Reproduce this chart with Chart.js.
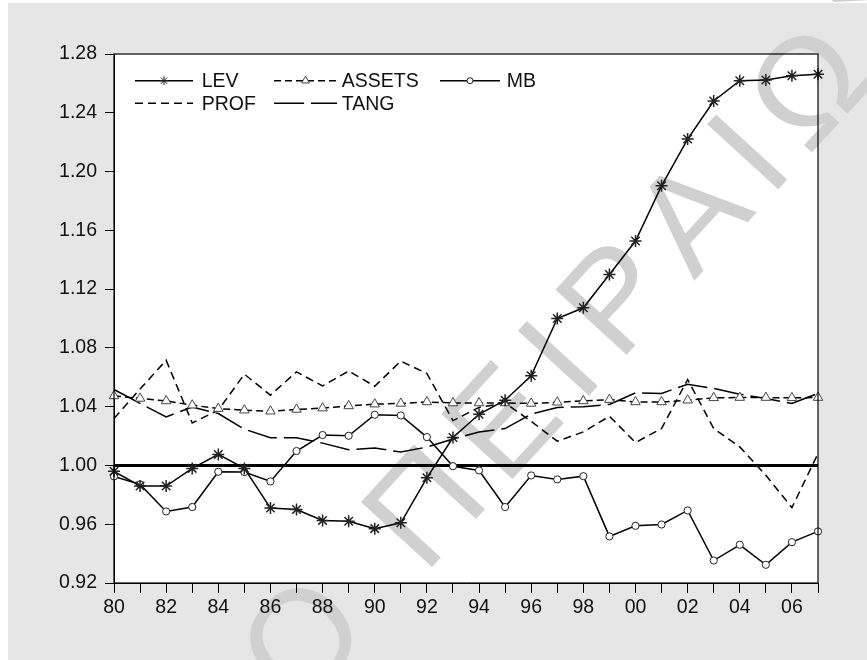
<!DOCTYPE html>
<html>
<head>
<meta charset="utf-8">
<script src="https://cdn.jsdelivr.net/npm/chart.js@4.4.0/dist/chart.umd.min.js"></script>
<style>
  html, body { margin: 0; padding: 0; background: #ffffff; }
  #c { display: block; }
</style>
</head>
<body>
<canvas id="c" width="867" height="660"></canvas>
<script>
// ---- data ----
const years = ['80','81','82','83','84','85','86','87','88','89','90','91','92','93','94','95','96','97','98','99','00','01','02','03','04','05','06','07'];
const LEV = [0.996, 0.986, 0.986, 0.998, 1.0075, 0.998, 0.971, 0.970, 0.9626, 0.962, 0.957, 0.961, 0.9916, 1.019, 1.0348, 1.0444, 1.061, 1.100, 1.1073, 1.130, 1.1527, 1.1903, 1.2221, 1.248, 1.2618, 1.2623, 1.2652, 1.2662];
const ASSETS = [1.0473, 1.0456, 1.0439, 1.041, 1.0387, 1.0376, 1.0369, 1.0381, 1.039, 1.0405, 1.0417, 1.0422, 1.0432, 1.0425, 1.0425, 1.0425, 1.0422, 1.043, 1.0439, 1.0448, 1.0432, 1.0432, 1.0444, 1.046, 1.0462, 1.0462, 1.046, 1.0462];
const MB = [0.9925, 0.9871, 0.9687, 0.9717, 0.9957, 0.9955, 0.9891, 1.0098, 1.0207, 1.0202, 1.0345, 1.034, 1.0193, 0.9995, 0.9966, 0.9717, 0.9932, 0.9905, 0.9927, 0.9517, 0.9589, 0.9598, 0.9694, 0.9353, 0.946, 0.9324, 0.9478, 0.9551];
const PROF = [1.0319, 1.052, 1.0716, 1.0289, 1.0376, 1.0621, 1.0478, 1.0637, 1.0541, 1.0642, 1.0539, 1.071, 1.0626, 1.0305, 1.0395, 1.0425, 1.030, 1.0165, 1.0228, 1.0335, 1.0156, 1.0251, 1.0585, 1.0251, 1.0126, 0.9933, 0.9713, 1.0081];
const TANG = [1.0517, 1.0422, 1.033, 1.0398, 1.0353, 1.0247, 1.0188, 1.0188, 1.0152, 1.0107, 1.0118, 1.0091, 1.0125, 1.018, 1.0228, 1.0251, 1.0349, 1.0394, 1.040, 1.0415, 1.0494, 1.049, 1.0553, 1.0524, 1.0485, 1.0456, 1.0422, 1.049];
const seriesNames = ['LEV', 'ASSETS', 'MB', 'PROF', 'TANG'];
const yTicks = { min: 0.92, max: 1.28, step: 0.04 };
const baseline = 1.00;
const watermarkHead = 'ΠΑΝΕΠΙΣΤΗΜΙ';
const watermarkTail = 'Ο ΠΕΙΡΑΙΩΣ';

const FONT = '"Liberation Sans", Arial, Helvetica, sans-serif';

// ---- plugins ----
const backgroundPlugin = {
  id: 'bg',
  beforeDraw(chart) {
    const ctx = chart.ctx, a = chart.chartArea;
    ctx.save();
    ctx.fillStyle = '#ffffff';
    ctx.fillRect(0, 0, chart.width, chart.height);
    ctx.fillStyle = '#e6e6e6';
    ctx.fillRect(8, 3, chart.width - 8, chart.height - 3);
    ctx.fillStyle = '#ffffff';
    ctx.fillRect(a.left, a.top, a.right - a.left, a.bottom - a.top);
    ctx.restore();

    // watermark: letters placed one by one along a diagonal, behind axes and data
    ctx.save();
    ctx.font = '140px ' + FONT;
    ctx.fillStyle = '#d0d0d0';
    ctx.textBaseline = 'middle';
    ctx.textAlign = 'center';
    const start = { x: 308, y: 645 };   // centre of the "Ο"
    const end = { x: 815, y: 92 };      // centre of the "Ω"
    const ang = Math.atan2(end.y - start.y, end.x - start.x);
    const dist = Math.hypot(end.x - start.x, end.y - start.y);
    const tail = Array.from(watermarkTail);
    const wArr = tail.map(ch => ctx.measureText(ch).width);
    const iW = tail.indexOf('Ω');
    let natural = wArr[0] / 2 + wArr[iW] / 2;
    for (let k = 1; k < iW; k++) natural += wArr[k];
    const extra = (dist - natural) / iW;
    ctx.translate(start.x, start.y);
    ctx.rotate(ang);
    let pos = 0;
    tail.forEach((ch, k) => {
      if (k > 0) pos += wArr[k - 1] / 2 + wArr[k] / 2 + extra;
      ctx.fillText(ch, pos, 0);
    });
    const head = Array.from(watermarkHead);
    let back = 0, prevW = wArr[0];
    for (let k = head.length - 1; k >= 0; k--) {
      const w = ctx.measureText(head[k]).width;
      back -= prevW / 2 + w / 2 + extra;
      ctx.fillText(head[k], back, 0);
      prevW = w;
    }
    ctx.restore();
  },
  beforeDatasetsDraw(chart) {
    const ctx = chart.ctx, a = chart.chartArea;
    const y = chart.scales.y.getPixelForValue(baseline);
    ctx.save();
    ctx.strokeStyle = '#000';
    ctx.lineWidth = 3;
    ctx.beginPath();
    ctx.moveTo(a.left, y);
    ctx.lineTo(a.right, y);
    ctx.stroke();
    ctx.restore();
  },
  afterDraw(chart) {
    const ctx = chart.ctx, a = chart.chartArea;
    ctx.save();
    ctx.strokeStyle = '#000';
    ctx.lineWidth = 1.2;
    ctx.strokeRect(a.left, a.top, a.right - a.left, a.bottom - a.top);
    ctx.restore();
  }
};

const legendLayout = [
  { x0: 135, x1: 193, tx: 201.7, y: 80.7, r: 4.5 },
  { x0: 274, x1: 337, tx: 341.7, y: 80.7, r: 4.5 },
  { x0: 440, x1: 500, tx: 506.7, y: 80.7, r: 3 },
  { x0: 135, x1: 193, tx: 201.7, y: 103.3, r: 0 },
  { x0: 274, x1: 337, tx: 341.7, y: 103.3, r: 0 }
];

const legendPlugin = {
  id: 'customLegend',
  afterDatasetsDraw(chart) {
    const ctx = chart.ctx;
    chart.data.datasets.forEach((ds, i) => {
      const L = legendLayout[i];
      ctx.save();
      ctx.strokeStyle = ds.borderColor;
      ctx.lineWidth = ds.borderWidth;
      ctx.setLineDash(ds.borderDash || []);
      ctx.beginPath();
      ctx.moveTo(L.x0, L.y);
      ctx.lineTo(L.x1, L.y);
      ctx.stroke();
      ctx.setLineDash([]);
      if (L.r > 0) {
        const mx = (L.x0 + L.x1) / 2;
        ctx.fillStyle = ds.pointBackgroundColor;
        ctx.strokeStyle = ds.pointBorderColor;
        ctx.lineWidth = 1;
        Chart.helpers.drawPoint(ctx, { pointStyle: ds.pointStyle, radius: L.r, rotation: 0, borderWidth: 1 }, mx, L.y);
      }
      ctx.fillStyle = '#111';
      ctx.font = '19.5px ' + FONT;
      ctx.textBaseline = 'middle';
      ctx.textAlign = 'left';
      ctx.fillText(ds.label, L.tx, L.y + 1);
      ctx.restore();
    });
  }
};

// ---- chart ----
const common = { borderColor: '#000', borderWidth: 1.5, tension: 0, fill: false };
new Chart(document.getElementById('c'), {
  type: 'line',
  data: {
    labels: years,
    datasets: [
      Object.assign({}, common, { label: seriesNames[0], data: LEV, pointStyle: 'star', pointRadius: 6, pointBorderColor: '#222', pointBackgroundColor: '#222', pointBorderWidth: 1.5 }),
      Object.assign({}, common, { label: seriesNames[1], data: ASSETS, borderDash: [7, 4], pointStyle: 'triangle', pointRadius: 5.5, pointBorderColor: '#444', pointBackgroundColor: '#fff', pointBorderWidth: 1 }),
      Object.assign({}, common, { label: seriesNames[2], data: MB, pointStyle: 'circle', pointRadius: 3.6, pointBorderColor: '#222', pointBackgroundColor: '#fff', pointBorderWidth: 1 }),
      Object.assign({}, common, { label: seriesNames[3], data: PROF, borderDash: [8, 5], pointRadius: 0 }),
      Object.assign({}, common, { label: seriesNames[4], data: TANG, borderDash: [30, 7], pointRadius: 0 })
    ]
  },
  options: {
    responsive: false,
    devicePixelRatio: 1,
    animation: false,
    events: [],
    layout: { padding: { top: 54, right: 49, left: 0, bottom: 0 } },
    plugins: { legend: { display: false }, tooltip: { enabled: false } },
    scales: {
      x: {
        type: 'category',
        offset: false,
        afterFit(s) { s.height = 77; },
        border: { display: true, color: '#000', width: 1 },
        grid: { display: true, drawOnChartArea: false, drawTicks: true, tickLength: 10, color: '#000', lineWidth: 1 },
        ticks: {
          autoSkip: false, maxRotation: 0, minRotation: 0, padding: 3,
          color: '#111', font: { family: FONT, size: 19.5 },
          callback: (v, i) => (i % 2 === 0 ? years[i] : '')
        }
      },
      y: {
        min: yTicks.min, max: yTicks.max,
        afterFit(s) { s.width = 114; },
        border: { display: true, color: '#000', width: 1 },
        grid: { display: true, drawOnChartArea: false, drawTicks: true, tickLength: 9, color: '#000', lineWidth: 1 },
        ticks: {
          stepSize: yTicks.step, padding: 8,
          color: '#111', font: { family: FONT, size: 19.5 },
          callback: (v) => Number(v).toFixed(2)
        }
      }
    }
  },
  plugins: [backgroundPlugin, legendPlugin]
});
</script>
</body>
</html>
